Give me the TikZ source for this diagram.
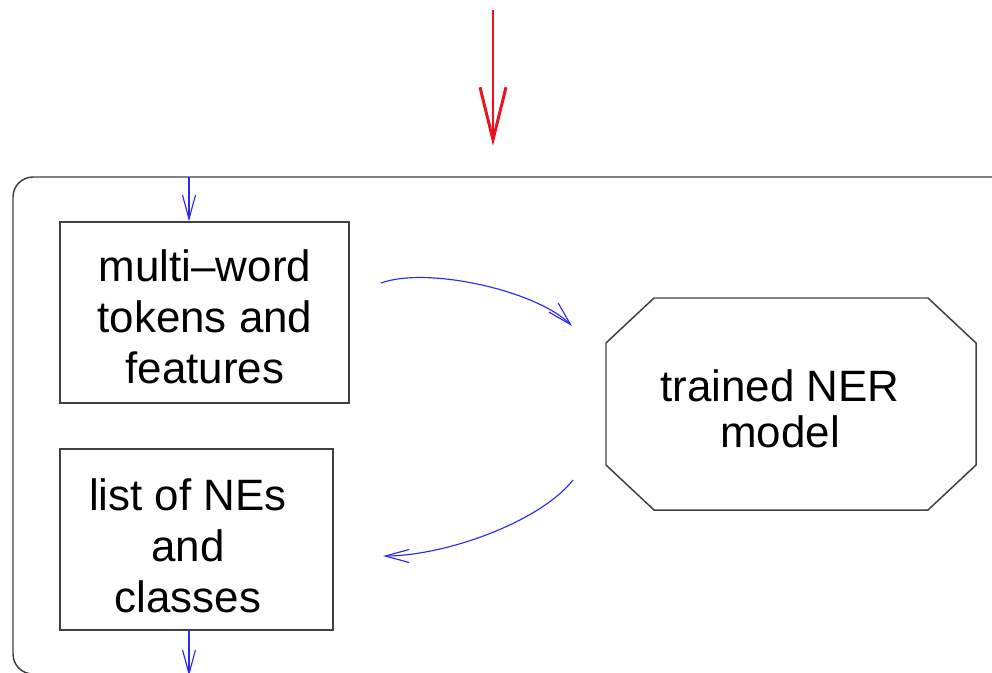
\documentclass[tikz,border=0pt]{standalone}
\usepackage{fontspec}
\setmainfont{Liberation Sans}
\usetikzlibrary{arrows.meta}
\definecolor{edgegray}{HTML}{404040}
\definecolor{flowblue}{HTML}{2A2AF0}
\definecolor{flowred}{HTML}{E8141E}
\begin{document}
\begin{tikzpicture}[x=0.02cm,y=-0.02cm,
  outline/.style={draw=edgegray, line width=0.85pt},
  boxnode/.style={outline, rectangle, inner sep=0pt},
  label3/.style={font=\fontsize{25}{29}\selectfont, align=center, inner sep=0pt},
  label2/.style={font=\fontsize{25}{26}\selectfont, align=center, inner sep=0pt},
  blueflow/.style={draw=flowblue, line width=0.65pt, -{Straight Barb[length=0.48cm,width=0.26cm]}},
  redflow/.style={draw=flowred, line width=1.7pt, -{Straight Barb[length=1.05cm,width=0.52cm]}}]
\useasboundingbox (0,0) rectangle (992,673);
\clip (0,0) rectangle (992,673);

% outer container
\draw[outline, rounded corners=0.4cm] (13,177) rectangle (1016,674);

% boxes
\node[boxnode, minimum width=5.78cm, minimum height=3.62cm] (b1) at (204.5,312.5) {};
\node[label3] (t1) at (205,317) {multi–word\\tokens and\\features};

\node[boxnode, minimum width=5.46cm, minimum height=3.62cm] (b2) at (196.5,539.5) {};
\node[label3] (t2) at (188,546) {list of NEs\\and\\classes};

% octagon
\coordinate (o1) at (654,298);
\coordinate (o2) at (928,298);
\coordinate (o3) at (976,343);
\coordinate (o4) at (976,465);
\coordinate (o5) at (928,510);
\coordinate (o6) at (654,510);
\coordinate (o7) at (606,465);
\coordinate (o8) at (606,343);
\draw[outline] (o1) -- (o2) -- (o3) -- (o4) -- (o5) -- (o6) -- (o7) -- (o8) -- cycle;
\node[label2] (t3) at (780,409) {trained NER\\model};

% red input arrow
\coordinate (r0) at (493,10);
\coordinate (r1) at (493,146);
\draw[redflow] (r0) -- (r1);

% blue arrows
\coordinate (inTop) at (189,177);
\draw[blueflow] (inTop) -- (inTop |- b1.north);
\coordinate (outBot) at (189,676);
\draw[blueflow] (outBot |- b2.south) -- (outBot);

\coordinate (c1s) at (381,283);
\coordinate (c1e) at (572,326);
\draw[blueflow] (c1s) .. controls (428,266) and (537,291) .. (c1e);

\coordinate (c2s) at (573,480);
\coordinate (c2e) at (383,556);
\draw[blueflow] (c2s) .. controls (540,522) and (445,556) .. (c2e);
\end{tikzpicture}
\end{document}
